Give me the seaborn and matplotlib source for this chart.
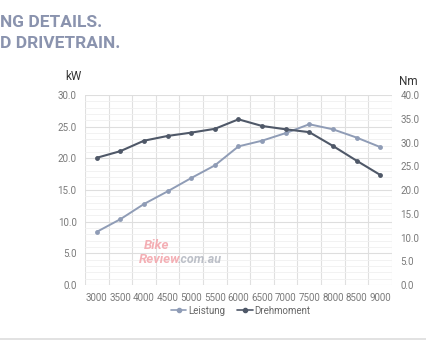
import numpy as np
import pandas as pd
import seaborn as sns
import matplotlib.pyplot as plt
from matplotlib.lines import Line2D

# engine speed (rpm) and measured curves
rpm = ['3000', '3500', '4000', '4500', '5000', '5500', '6000',
       '6500', '7000', '7500', '8000', '8500', '9000']
leistung_kw = [8.4, 10.4, 12.8, 14.8, 16.9, 18.9, 21.9, 22.8, 24.0, 25.4, 24.6, 23.3, 21.8]
drehmoment_nm = [26.8, 28.2, 30.4, 31.4, 32.1, 32.9, 34.9, 33.5, 32.8, 32.2, 29.3, 26.2, 23.2]

kw_ticks = np.arange(0, 30.1, 5)
nm_ticks = np.arange(0, 40.1, 5)

sns.set_theme(style='white')
plt.rcParams['font.family'] = ['Roboto', 'DejaVu Sans']

c_light = '#8f9cb6'
c_dark = '#4f5868'
c_tick = '#7a7a7a'

df = pd.DataFrame({'rpm': rpm, 'Leistung': leistung_kw, 'Drehmoment': drehmoment_nm})

fig = plt.figure(figsize=(4.26, 3.51), dpi=100)
ax = fig.add_axes([0.1995, 0.188, 0.7205, 0.541])
ax2 = ax.twinx()

sns.lineplot(data=df, x='rpm', y='Leistung', color=c_light, marker='o', markersize=3.5,
             markeredgewidth=0, linewidth=1.4, ax=ax, sort=False)
sns.lineplot(data=df, x='rpm', y='Drehmoment', color=c_dark, marker='o', markersize=3.5,
             markeredgewidth=0, linewidth=1.5, ax=ax2, sort=False)

ax.set_xlim(-0.5, len(rpm) - 0.5)
ax.set_ylim(0, 30)
ax2.set_ylim(0, 40)
ax.set_yticks(kw_ticks)
ax.set_yticklabels([f'{v:.1f}' for v in kw_ticks])
ax2.set_yticks(nm_ticks)
ax2.set_yticklabels([f'{v:.1f}' for v in nm_ticks])
ax.set_yticks(np.arange(0, 30.1, 1), minor=True)
ax.set_xticks(np.arange(-0.5, len(rpm)), minor=True)

ax.grid(False)
ax2.grid(False)
ax.grid(which='major', axis='y', color='#dedede', linewidth=0.8)
ax.grid(which='minor', axis='y', color='#f0f0f0', linewidth=0.6)
ax.grid(which='minor', axis='x', color='#e0e0e0', linewidth=0.8)
ax.set_axisbelow(True)

for a in (ax, ax2):
    for s in a.spines.values():
        s.set_visible(False)
    a.tick_params(which='both', length=0, labelsize=7, colors=c_tick, pad=6)
    a.set_xlabel('')
    a.set_ylabel('')

fig.text(0.153, 0.772, 'kW', fontsize=8.5, color='#333333', ha='left')
fig.text(0.936, 0.758, 'Nm', fontsize=8.5, color='#333333', ha='left')

# cropped headline
fig.text(0.001, 0.922, 'NG DETAILS.', fontsize=12.5, fontweight='bold', color='#8a93ae')
fig.text(0.001, 0.862, 'D DRIVETRAIN.', fontsize=12.5, fontweight='bold', color='#8a93ae')

# watermark
fig.text(0.338, 0.292, 'Bike', fontsize=9.5, fontweight='bold', style='italic', color='#f3a7ad', alpha=0.9)
fig.text(0.325, 0.25, 'Review', fontsize=9.5, fontweight='bold', style='italic', color='#f3a7ad', alpha=0.9)
fig.text(0.418, 0.25, '.com.au', fontsize=9, fontweight='bold', style='italic', color='#b5b9c2', alpha=0.9)

handles = [Line2D([], [], color=c_light, marker='o', markersize=3, linewidth=1.2),
           Line2D([], [], color=c_dark, marker='o', markersize=3, linewidth=1.2)]
leg = fig.legend(handles, ['Leistung', 'Drehmoment'], loc='center', bbox_to_anchor=(0.565, 0.115),
                 ncol=2, frameon=False, fontsize=7, handlelength=1.6, handletextpad=0.2,
                 columnspacing=1.2)
for t in leg.get_texts():
    t.set_color('#666666')

fig.add_artist(Line2D([0, 1], [0.034, 0.034], color='#dddddd', linewidth=1.2, transform=fig.transFigure))

fig.savefig('out.png', dpi=100)
